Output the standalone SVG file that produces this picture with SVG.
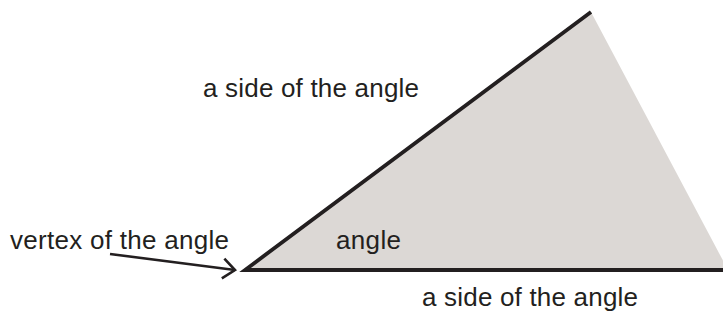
<svg xmlns="http://www.w3.org/2000/svg" width="723" height="336" viewBox="0 0 723 336">
<style>
.lbl{font-family:"Liberation Sans",Arial,sans-serif;font-size:26px;fill:#231f20}
.side{stroke:#231f20;stroke-width:3.8;fill:none;stroke-linejoin:miter}
.ptr{stroke:#231f20;stroke-width:2.6;fill:none}
</style>
<defs>
<marker id="chev" markerUnits="userSpaceOnUse" markerWidth="30" markerHeight="30" refX="0" refY="0" viewBox="-15 -15 30 30" orient="auto">
<path d="M-12,-10 L0,0 L-12,10" fill="none" stroke="#231f20" stroke-width="2.6"/>
</marker>
</defs>
<g id="angle-shape">
<polygon points="245,270 591,12 728,270" fill="#dcd8d5"/>
<path class="side" d="M591,12 L245,270 L723,270"/>
</g>
<g id="connectors">
<path class="ptr" d="M110,254 L235,270" marker-end="url(#chev)"/>
</g>
<g id="label-side-top"><text class="lbl" x="203" y="97" textLength="216" lengthAdjust="spacing">a side of the angle</text></g>
<g id="label-vertex"><text class="lbl" x="10" y="249" textLength="219" lengthAdjust="spacing">vertex of the angle</text></g>
<g id="label-angle"><text class="lbl" x="336" y="249" textLength="65" lengthAdjust="spacing">angle</text></g>
<g id="label-side-bottom"><text class="lbl" x="422" y="306" textLength="216" lengthAdjust="spacing">a side of the angle</text></g>
</svg>
